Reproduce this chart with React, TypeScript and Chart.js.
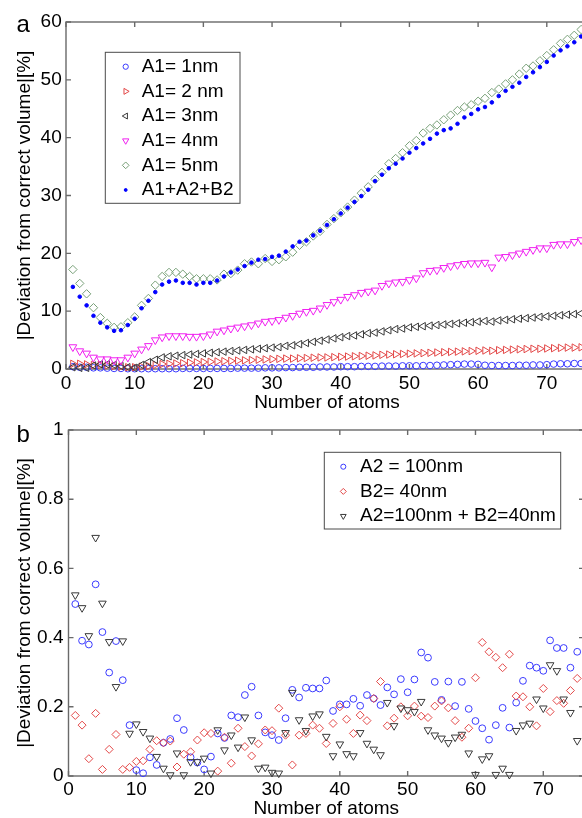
import React, { useEffect, useRef } from 'react';
import { Chart, registerables } from 'chart.js';
import { drawPoint } from 'chart.js/helpers';

Chart.register(...registerables);

const FONT = "'Liberation Sans', Arial, sans-serif";

// ---------- data ----------
const atoms = [1, 2, 3, 4, 5, 6, 7, 8, 9, 10, 11, 12, 13, 14, 15, 16, 17, 18, 19, 20, 21, 22, 23, 24, 25,
  26, 27, 28, 29, 30, 31, 32, 33, 34, 35, 36, 37, 38, 39, 40, 41, 42, 43, 44, 45, 46, 47, 48, 49, 50,
  51, 52, 53, 54, 55, 56, 57, 58, 59, 60, 61, 62, 63, 64, 65, 66, 67, 68, 69, 70, 71, 72, 73, 74, 75];

const xTicks = [0, 10, 20, 30, 40, 50, 60, 70];
const yTicksA = [0, 10, 20, 30, 40, 50, 60];
const yTicksB = [0, 0.2, 0.4, 0.6, 0.8, 1];
const yTickLabelsB = ['0', '0.2', '0.4', '0.6', '0.8', '1'];

const labelsA = ['A1= 1nm', 'A1= 2 nm', 'A1= 3nm', 'A1= 4nm', 'A1= 5nm', 'A1+A2+B2'];
const labelsB = ['A2 = 100nm', 'B2= 40nm', 'A2=100nm + B2=40nm'];

const a1_1nm = [0.4, 0.3, 0.3, 0.2, 0.2, 0.15, 0.1, 0.1, 0.05, 0.05, 0.05, 0.05, 0.05, 0.05, 0.05, 0.05, 0.1, 0.1, 0.1, 0.1,
  0.1, 0.1, 0.1, 0.1, 0.15, 0.15, 0.15, 0.15, 0.2, 0.2, 0.2, 0.25, 0.25, 0.3, 0.3, 0.3, 0.35, 0.35, 0.35, 0.4,
  0.4, 0.4, 0.45, 0.45, 0.45, 0.5, 0.5, 0.5, 0.55, 0.55, 0.55, 0.6, 0.6, 0.65, 0.7, 0.75, 0.8, 0.85, 0.85, 0.8,
  0.65, 0.6, 0.6, 0.6, 0.6, 0.65, 0.65, 0.7, 0.7, 0.75, 0.85, 0.9, 0.9, 0.95, 0.95];

const a1_2nm = [0.9, 0.9, 0.8, 0.7, 0.7, 0.6, 0.5, 0.4, 0.3, 0.3, 0.4, 0.5, 0.7, 0.85, 0.9, 0.95, 1.0, 1.1, 1.15, 1.2,
  1.25, 1.3, 1.35, 1.4, 1.45, 1.5, 1.55, 1.6, 1.65, 1.7, 1.75, 1.8, 1.8, 1.85, 1.9, 1.95, 2.0, 2.0, 2.05, 2.1,
  2.15, 2.2, 2.25, 2.3, 2.35, 2.45, 2.5, 2.55, 2.6, 2.65, 2.7, 2.75, 2.8, 2.85, 2.9, 2.95, 3.0, 3.05, 3.1, 3.15,
  3.2, 3.15, 3.25, 3.3, 3.35, 3.4, 3.45, 3.5, 3.5, 3.55, 3.6, 3.65, 3.7, 3.7, 3.75];

const a1_3nm = [0.3, 0.2, 0.2, 0.6, 0.8, 0.8, 0.7, 0.5, 0.3, 0.2, 0.7, 1.2, 1.6, 2.0, 2.2, 2.3, 2.4, 2.5, 2.6, 2.7,
  2.8, 2.9, 3.0, 3.1, 3.2, 3.3, 3.4, 3.5, 3.6, 3.7, 3.8, 4.0, 4.1, 4.3, 4.5, 4.7, 4.9, 5.1, 5.3, 5.5,
  5.7, 5.8, 6.0, 6.2, 6.3, 6.5, 6.7, 6.9, 7.0, 7.2, 7.3, 7.4, 7.5, 7.6, 7.7, 7.8, 7.9, 8.0, 8.1, 8.2,
  8.3, 8.2, 8.4, 8.5, 8.6, 8.7, 8.8, 8.9, 9.0, 9.1, 9.2, 9.3, 9.4, 9.5, 9.6];

const a1_4nm = [3.8, 3.1, 2.7, 2.0, 1.7, 1.7, 1.55, 1.55, 2.0, 2.7, 3.4, 4.0, 5.0, 5.5, 5.7, 5.7, 5.7, 5.6, 5.6, 5.7,
  6.0, 6.5, 6.7, 7.0, 7.2, 7.4, 7.6, 7.9, 8.2, 8.3, 8.5, 8.9, 9.2, 9.6, 9.9, 10.1, 10.5, 11.1, 11.6, 12.0,
  12.5, 12.8, 13.2, 13.4, 13.6, 14.4, 14.8, 15.0, 15.1, 15.4, 15.7, 16.6, 17.0, 17.1, 17.5, 17.8, 18.0, 18.2, 18.3, 18.3,
  18.4, 17.6, 19.3, 19.4, 19.7, 20.0, 20.3, 20.6, 20.9, 20.9, 21.5, 21.6, 21.6, 22.0, 22.3];

const a1_5nm = [17.2, 14.8, 13.0, 10.6, 8.9, 7.9, 7.2, 7.3, 8.0, 9.0, 11.0, 12.2, 14.5, 16.0, 16.7, 16.7, 16.4, 16.0, 15.6, 15.6,
  15.6, 15.4, 16.4, 16.5, 17.1, 18.2, 18.5, 18.2, 19.1, 18.6, 18.9, 19.4, 20.2, 21.4, 22.0, 23.0, 23.8, 25.0, 26.0, 27.0,
  28.0, 29.2, 30.4, 31.5, 32.8, 34.0, 35.5, 36.4, 37.4, 38.6, 39.5, 40.8, 41.6, 42.2, 43.1, 43.9, 44.7, 45.3, 45.7, 46.3,
  46.8, 47.8, 48.4, 49.3, 50.0, 51.0, 52.0, 52.4, 53.3, 54.2, 55.2, 56.3, 57.0, 57.7, 58.7];

const a1a2b2 = [14.2, 12.5, 11.0, 9.2, 8.0, 7.2, 6.6, 6.7, 7.6, 8.7, 10.5, 11.8, 13.3, 14.6, 15.1, 15.3, 14.9, 14.9, 14.6, 14.9,
  14.9, 15.3, 16.0, 16.7, 17.2, 17.8, 18.4, 18.9, 19.0, 19.4, 19.6, 20.3, 21.2, 22.0, 22.2, 23.1, 23.9, 24.9, 25.9, 26.9,
  27.9, 28.9, 29.9, 31.0, 32.5, 33.6, 34.7, 35.5, 36.4, 37.4, 38.2, 39.0, 39.8, 40.7, 41.3, 41.6, 42.4, 43.5, 44.1, 44.9,
  45.3, 46.1, 47.2, 48.1, 48.8, 49.5, 50.5, 51.3, 52.2, 53.1, 54.2, 55.1, 55.8, 56.5, 57.5];

const a2_100nm = [0.497, 0.391, 0.380, 0.554, 0.416, 0.299, 0.390, 0.277, 0.147, 0.017, 0.008, 0.054, 0.032, 0.096, 0.107,
  0.167, 0.133, 0.054, 0.039, 0.019, 0.056, 0.123, 0.110, 0.175, 0.170, 0.234, 0.258, 0.175, 0.126, 0.118,
  0.104, 0.167, 0.249, 0.227, 0.255, 0.253, 0.253, 0.276, 0.188, 0.207, 0.207, 0.223, 0.203, 0.234, 0.224,
  0.205, 0.256, 0.236, 0.280, 0.242, 0.279, 0.357, 0.342, 0.272, 0.220, 0.273, 0.202, 0.272, 0.194, 0.159,
  0.138, 0.105, 0.147, 0.197, 0.140, 0.212, 0.275, 0.319, 0.313, 0.304, 0.392, 0.370, 0.370, 0.313, 0.359];

const b2_40nm = [0.175, 0.147, 0.050, 0.181, 0.019, 0.077, 0.120, 0.019, 0.025, 0.042, 0.044, 0.077, 0.102, 0.096, 0.101,
  0.026, 0.063, 0.070, 0.104, 0.125, 0.123, 0.014, 0.112, 0.037, 0.138, 0.085, 0.058, 0.093, 0.133, 0.131,
  0.196, 0.118, 0.032, 0.118, 0.123, 0.147, 0.138, 0.094, 0.152, 0.200, 0.164, 0.123, 0.176, 0.160, 0.224,
  0.273, 0.145, 0.167, 0.200, 0.174, 0.202, 0.173, 0.169, 0.202, 0.217, 0.197, 0.160, 0.112, 0.138, 0.284,
  0.386, 0.359, 0.343, 0.313, 0.352, 0.231, 0.229, 0.200, 0.145, 0.253, 0.186, 0.218, 0.210, 0.247, 0.282];

const a2b2 = [0.523, 0.486, 0.405, 0.689, 0.499, 0.388, 0.258, 0.390, 0.123, 0.150, 0.128, 0.109, 0.056, 0.022, 0.003,
  0.066, 0.003, 0.041, 0.041, 0.051, 0.008, 0.133, 0.075, 0.118, 0.083, 0.170, 0.104, 0.022, 0.025, 0.010,
  0.008, 0.125, 0.241, 0.162, 0.131, 0.173, 0.179, 0.114, 0.058, 0.092, 0.064, 0.058, 0.125, 0.094, 0.077,
  0.061, 0.212, 0.145, 0.196, 0.191, 0.186, 0.215, 0.133, 0.118, 0.109, 0.096, 0.112, 0.120, 0.066, 0.004,
  0.049, 0.058, 0.004, 0.022, 0.004, 0.131, 0.147, 0.152, 0.222, 0.196, 0.321, 0.304, 0.222, 0.183, 0.102];

// ---------- helpers ----------
const pts = (ys: number[]) => ys.map((y, i) => ({ x: atoms[i], y }));

type MarkerSpec = { style: string; rot: number; r: number; color: string; fill: string };

const mkDataset = (label: string, ys: number[], m: MarkerSpec, order: number) => ({
  label,
  data: pts(ys),
  showLine: false,
  clip: false,
  order,
  pointStyle: m.style,
  pointRotation: m.rot,
  pointRadius: m.r,
  borderColor: m.color,
  pointBorderColor: m.color,
  backgroundColor: m.fill,
  pointBackgroundColor: m.fill,
  borderWidth: 1,
  pointBorderWidth: 1,
});

const matlabPlugin = {
  id: 'matlab',
  beforeDatasetsDraw(chart: any, _args: any, opts: any) {
    const { ctx, chartArea, scales } = chart;
    const { left, top, right, bottom } = chartArea;
    ctx.save();
    ctx.strokeStyle = '#6a6a6a';
    ctx.lineWidth = 1.4;
    ctx.strokeRect(left, top, right - left, bottom - top);
    const tl = 5;
    ctx.beginPath();
    for (const v of opts.xTicks) {
      const px = scales.x.getPixelForValue(v);
      ctx.moveTo(px, bottom); ctx.lineTo(px, bottom - tl);
      ctx.moveTo(px, top); ctx.lineTo(px, top + tl);
    }
    for (const v of opts.yTicks) {
      const py = scales.y.getPixelForValue(v);
      ctx.moveTo(left, py); ctx.lineTo(left + tl, py);
      ctx.moveTo(right, py); ctx.lineTo(right - tl, py);
    }
    ctx.stroke();
    ctx.restore();
  },
  afterDatasetsDraw(chart: any, _args: any, opts: any) {
    const { ctx } = chart;
    const lg = opts.legend;
    ctx.save();
    ctx.fillStyle = '#ffffff';
    ctx.fillRect(lg.x0, lg.y0, lg.x1 - lg.x0, lg.y1 - lg.y0);
    ctx.strokeStyle = '#4a4a4a';
    ctx.lineWidth = 1;
    ctx.strokeRect(lg.x0, lg.y0, lg.x1 - lg.x0, lg.y1 - lg.y0);
    chart.data.datasets.forEach((ds: any, i: number) => {
      const y = lg.rowY + i * lg.rowGap;
      ctx.strokeStyle = ds.pointBorderColor;
      ctx.fillStyle = ds.pointBackgroundColor;
      ctx.lineWidth = 1;
      drawPoint(ctx, {
        pointStyle: ds.pointStyle,
        rotation: ds.pointRotation,
        radius: ds.pointRadius * lg.markerScale,
        borderWidth: 1,
      } as any, lg.markerX, y);
      ctx.fillStyle = '#000000';
      ctx.font = `19px ${FONT}`;
      ctx.textAlign = 'left';
      ctx.textBaseline = 'middle';
      ctx.fillText(ds.label, lg.textX, y);
    });
    ctx.fillStyle = '#000000';
    ctx.font = `24px ${FONT}`;
    ctx.textAlign = 'left';
    ctx.textBaseline = 'alphabetic';
    ctx.fillText(opts.panel.text, opts.panel.x, opts.panel.y);
    ctx.restore();
  },
};

const tickFont = { family: FONT, size: 19 };

function makeConfig(p: any) {
  return {
    type: 'scatter',
    data: { datasets: p.datasets },
    plugins: [matlabPlugin],
    options: {
      animation: false,
      responsive: false,
      devicePixelRatio: 1,
      events: [],
      layout: { padding: { left: 0, top: p.padTop, right: p.padRight, bottom: 0 } },
      plugins: {
        legend: { display: false },
        tooltip: { enabled: false },
        matlab: { xTicks, yTicks: p.yTicks, legend: p.legend, panel: p.panel },
      },
      scales: {
        x: {
          type: 'linear',
          min: 0,
          max: 76,
          grid: { display: false, drawTicks: false },
          border: { display: false },
          afterFit: (s: any) => { s.height = p.xAxisH; },
          afterBuildTicks: (s: any) => { s.ticks = xTicks.map((v) => ({ value: v })); },
          ticks: {
            color: '#000', font: tickFont, padding: p.xTickPad, maxRotation: 0, autoSkip: false,
            callback: (v: number) => String(v),
          },
          title: {
            display: true, text: 'Number of atoms', color: '#000', font: tickFont,
            padding: { top: 0, bottom: p.xTitlePad },
          },
        },
        y: {
          type: 'linear',
          min: 0,
          max: p.yMax,
          grid: { display: false, drawTicks: false },
          border: { display: false },
          afterFit: (s: any) => { s.width = p.yAxisW; },
          afterBuildTicks: (s: any) => { s.ticks = p.yTicks.map((v: number) => ({ value: v })); },
          ticks: {
            color: '#000', font: tickFont, padding: p.yTickPad, autoSkip: false,
            callback: (_v: number, i: number) => p.yTickLabels[i],
          },
          title: {
            display: true, text: '|Deviation from correct volume|[%]', color: '#000', font: tickFont,
            padding: { top: p.yTitlePad, bottom: 0 },
          },
        },
      },
    },
  } as any;
}

const BLUE = '#3a3aff';
const RED = '#e34848';
const BLACK = '#3a3a3a';
const MAGENTA = '#f020f0';
const GREEN = '#78a078';
const NONE = 'rgba(0,0,0,0)';

const configA = makeConfig({
  datasets: [
    mkDataset(labelsA[0], a1_1nm, { style: 'circle', rot: 0, r: 3.3, color: BLUE, fill: NONE }, 6),
    mkDataset(labelsA[1], a1_2nm, { style: 'triangle', rot: 90, r: 4.3, color: RED, fill: NONE }, 5),
    mkDataset(labelsA[2], a1_3nm, { style: 'triangle', rot: -90, r: 4.3, color: BLACK, fill: NONE }, 4),
    mkDataset(labelsA[3], a1_4nm, { style: 'triangle', rot: 180, r: 4.5, color: MAGENTA, fill: NONE }, 3),
    mkDataset(labelsA[4], a1_5nm, { style: 'rectRot', rot: 0, r: 4.2, color: GREEN, fill: NONE }, 2),
    mkDataset(labelsA[5], a1a2b2, { style: 'circle', rot: 0, r: 1.8, color: '#0000ff', fill: '#0000ff' }, 1),
  ],
  yTicks: yTicksA,
  yTickLabels: yTicksA.map(String),
  yMax: 60,
  padTop: 22,
  padRight: 620 - 588,
  yAxisW: 66,
  xAxisH: 416 - 369,
  xTickPad: 3,
  yTickPad: 4.3,
  xTitlePad: 2.2,
  yTitlePad: 13.6,
  legend: { x0: 105.3, y0: 52.3, x1: 240, y1: 203.3, rowY: 66.7, rowGap: 24.66, markerX: 125.7, textX: 141.7, markerScale: 0.8 },
  panel: { text: 'a', x: 16.5, y: 31.7 },
});

const configB = makeConfig({
  datasets: [
    mkDataset(labelsB[0], a2_100nm, { style: 'circle', rot: 0, r: 3.4, color: BLUE, fill: NONE }, 3),
    mkDataset(labelsB[1], b2_40nm, { style: 'rectRot', rot: 0, r: 4.0, color: RED, fill: NONE }, 2),
    mkDataset(labelsB[2], a2b2, { style: 'triangle', rot: 180, r: 4.4, color: BLACK, fill: NONE }, 1),
  ],
  yTicks: yTicksB,
  yTickLabels: yTickLabelsB,
  yMax: 1,
  padTop: 430 - 409,
  padRight: 620 - 584,
  yAxisW: 68.5,
  xAxisH: 412 - (776 - 409),
  xTickPad: 2,
  yTickPad: 5,
  xTitlePad: 1.2,
  yTitlePad: 13.6,
  legend: { x0: 324.3, y0: 43.3, x1: 560.7, y1: 120, rowY: 57.7, rowGap: 24.7, markerX: 343.3, textX: 360, markerScale: 0.75 },
  panel: { text: 'b', x: 16.5, y: 32.7 },
});

export default function App() {
  const refA = useRef<HTMLCanvasElement>(null);
  const refB = useRef<HTMLCanvasElement>(null);
  useEffect(() => {
    const a = new Chart(refA.current as HTMLCanvasElement, configA);
    const b = new Chart(refB.current as HTMLCanvasElement, configB);
    return () => { a.destroy(); b.destroy(); };
  }, []);
  return (
    <div style={{ position: 'fixed', left: 0, top: 0, width: 582, height: 818, overflow: 'hidden', background: '#ffffff' }}>
      <canvas ref={refA} width={620} height={416} style={{ position: 'absolute', left: 0, top: 0, width: 620, height: 416 }} />
      <canvas ref={refB} width={620} height={412} style={{ position: 'absolute', left: 0, top: 409, width: 620, height: 412 }} />
    </div>
  );
}
